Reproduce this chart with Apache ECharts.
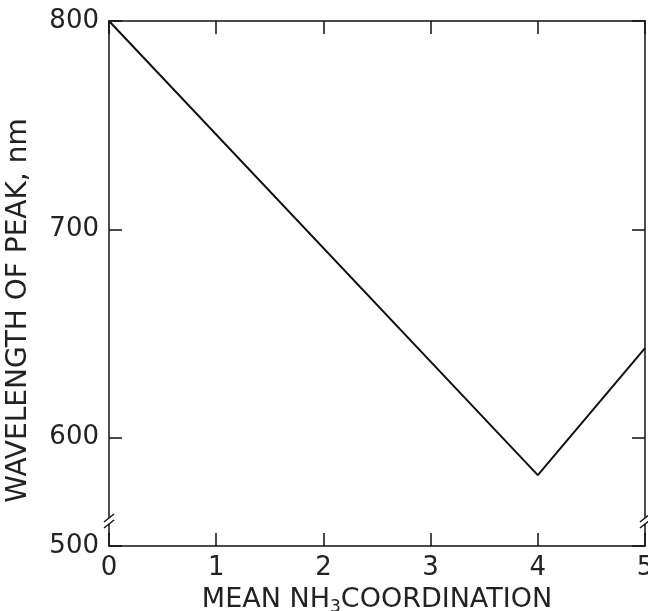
<!DOCTYPE html>
<html>
<head>
<meta charset="utf-8">
<script src="https://cdn.jsdelivr.net/npm/echarts@6/dist/echarts.min.js"></script>
<style>html,body{margin:0;padding:0;background:#fff}#c{width:648px;height:611px}</style>
</head>
<body>
<div id="c"></div>
<script>
// Data
var xValues = [0, 4, 5];
var yValues = [800, 582, 643];
var xTicks = [0, 1, 2, 3, 4, 5];
var yTicks = [600, 700, 800];
var yBreakValue = 548;      // bottom of the broken axis
var yBreakLabel = '500';    // label shown at the bottom of the broken axis
var yBreakMark = 560;       // where the break symbol sits
var xTitle = 'MEAN NH{sub|3}COORDINATION';
var yTitle = 'WAVELENGTH OF PEAK, nm';

var FONT = 'DejaVu Sans';
var chart = echarts.init(document.getElementById('c'), null, {renderer: 'canvas'});
var axisLine = {show: true, onZero: false, lineStyle: {color: '#111', width: 1.5}};
var tickStyle = {color: '#111', width: 1.5};
var yLabelValues = [yBreakValue].concat(yTicks);

var option = {
  backgroundColor: '#fff',
  animation: false,
  grid: {left: 109, right: 3, top: 21, bottom: 65, containLabel: false, outerBoundsMode: 'none'},
  xAxis: [{
    type: 'value', min: 0, max: 5, interval: 1,
    axisLine: axisLine,
    axisTick: {show: true, inside: true, length: 13, lineStyle: tickStyle},
    splitLine: {show: false},
    axisLabel: {show: true, margin: 9, fontFamily: FONT, fontSize: 26, color: '#222',
      customValues: xTicks},
    name: xTitle, nameLocation: 'middle', nameGap: 37,
    nameTextStyle: {fontFamily: FONT, fontSize: 27, color: '#222',
      rich: {sub: {fontFamily: FONT, fontSize: 17, color: '#222', verticalAlign: 'bottom', padding: [16, 0, 0, 0]}}}
  }, {
    type: 'value', min: 0, max: 5, interval: 1, position: 'top',
    axisLine: axisLine,
    axisTick: {show: true, inside: true, length: 13, lineStyle: tickStyle},
    axisLabel: {show: false}, splitLine: {show: false}
  }],
  yAxis: [{
    type: 'value', min: yBreakValue, max: 800, position: 'left', splitNumber: 3,
    axisLine: axisLine,
    axisTick: {show: true, inside: true, length: 13, lineStyle: tickStyle},
    splitLine: {show: false},
    axisLabel: {show: true, margin: 10, fontFamily: FONT, fontSize: 26, color: '#222',
      customValues: yLabelValues,
      formatter: function (v) { return v === yBreakValue ? yBreakLabel : String(v); }},
    name: yTitle, nameLocation: 'middle', nameGap: 76, nameRotate: 90,
    nameTextStyle: {fontFamily: FONT, fontSize: 28, color: '#222', padding: [0, 0, 0, -54]}
  }, {
    type: 'value', min: yBreakValue, max: 800, position: 'right', splitNumber: 3,
    axisLine: axisLine,
    axisTick: {show: true, inside: true, length: 13, lineStyle: tickStyle},
    axisLabel: {show: false}, splitLine: {show: false}
  }],
  series: [{
    type: 'line',
    data: xValues.map(function (x, i) { return [x, yValues[i]]; }),
    showSymbol: false,
    lineStyle: {color: '#111', width: 2},
    z: 3
  }]
};
chart.setOption(option);

// break marks on both vertical axes
var gl = [];
[0, 5].forEach(function (xv) {
  var p = chart.convertToPixel({xAxisIndex: 0, yAxisIndex: 0}, [xv, yBreakMark]);
  gl.push({type: 'rect', shape: {x: p[0] - 2, y: p[1] - 3, width: 4, height: 6},
    style: {fill: '#fff'}, z: 9});
  [-3, 3].forEach(function (dy) {
    gl.push({type: 'line', shape: {x1: p[0] - 5, y1: p[1] + dy + 4, x2: p[0] + 5, y2: p[1] + dy - 4},
      style: {stroke: '#111', lineWidth: 1.5}, z: 10});
  });
});
chart.setOption({graphic: gl});
</script>
</body>
</html>
